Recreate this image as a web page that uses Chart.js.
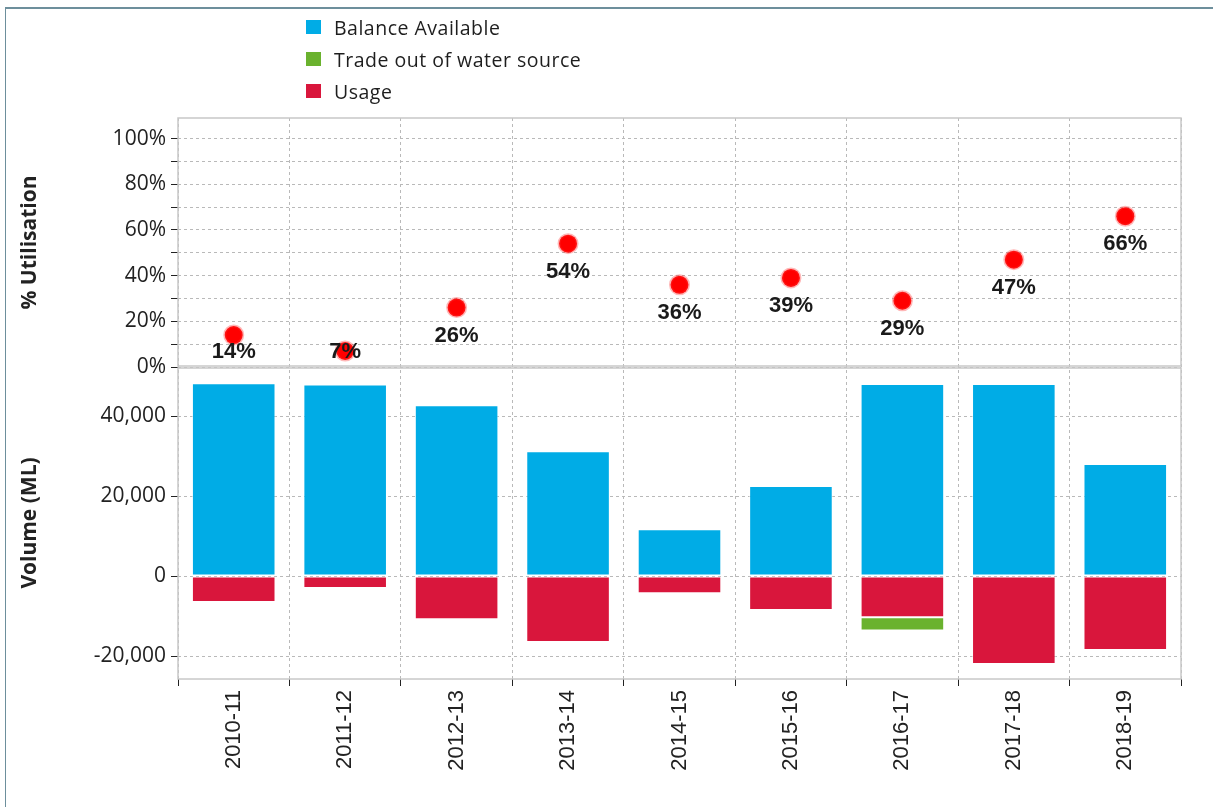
<!DOCTYPE html>
<html>
<head>
<meta charset="utf-8">
<script src="https://cdn.jsdelivr.net/npm/chart.js@4.4.1/dist/chart.umd.min.js"></script>
<style>
  html, body { margin: 0; padding: 0; background: #fff; }
  #wrap { position: relative; width: 1213px; height: 807px; overflow: hidden; }
  #frame { position: absolute; left: 5px; top: 7px; width: 1300px; height: 900px;
           border-left: 1px solid #6d8f9c; border-top: 2px solid #6d8f9c; }
  #legend { position: absolute; left: 306px; top: 11px; font: 19.5px "Open Sans", sans-serif;
            color: #1e1e1e; letter-spacing: 0.5px; }
  .item { height: 32px; display: flex; align-items: center; }
  .sw { width: 15px; height: 14px; margin-right: 13px; }
  canvas { position: absolute; left: 0; top: 0; }
</style>
</head>
<body>
<div id="wrap">
  <div id="frame"></div>
  <canvas id="volumeChart" width="1213" height="807"></canvas>
  <div id="legend"></div>
</div>
<script>
// сезони та значення
const seasons = ["2010-11", "2011-12", "2012-13", "2013-14", "2014-15", "2015-16", "2016-17", "2017-18", "2018-19"];
const balanceAvailable = [48200, 47900, 42700, 31200, 11700, 22500, 48000, 48000, 28000];
const usage = [-6500, -3000, -10800, -16500, -4300, -8500, -10300, -22000, -18500];
const tradeOut = [null, null, null, null, null, null, -3300, null, null];
const utilisation = [14, 7, 26, 54, 36, 39, 29, 47, 66];

// позначки осей
const pctTicks = [0, 10, 20, 30, 40, 50, 60, 70, 80, 90, 100];
const pctLabelled = [0, 20, 40, 60, 80, 100];
const volumeTicks = [-20000, 0, 20000, 40000];

const colors = {
  balance: "#00ace6",
  trade: "#6ab22e",
  usage: "#d9163c"
};

// легенда — в тому ж порядку, що й на оригіналі
const legendItems = [
  ["Balance Available", colors.balance],
  ["Trade out of water source", colors.trade],
  ["Usage", colors.usage]
];
document.getElementById("legend").innerHTML = legendItems
  .map(([name, c]) => `<div class="item"><span class="sw" style="background:${c}"></span>${name}</div>`)
  .join("");

Chart.defaults.font.family = '"Open Sans", sans-serif';
Chart.defaults.color = "#222";

const gridColor = "#b9b9b9";
const tickFont = { family: '"Open Sans", sans-serif', size: 21 };
const titleFont = { family: '"Open Sans", sans-serif', size: 21, weight: "bold" };

// рамки навколо обох панелей
const panelFrame = {
  id: "panelFrame",
  beforeDatasetsDraw(chart) {
    const { ctx, chartArea } = chart;
    const top = chart.scales.yPct;
    const vol = chart.scales.yVol;
    ctx.save();
    ctx.strokeStyle = "#c8c8c8";
    ctx.lineWidth = 1.5;
    ctx.strokeRect(chartArea.left, top.top, chartArea.right - chartArea.left, top.bottom - top.top - 1);
    ctx.strokeRect(chartArea.left, vol.top + 1, chartArea.right - chartArea.left, vol.bottom - vol.top - 1);
    ctx.restore();
  }
};

// підписи відсотків під точками
const pctLabels = {
  id: "pctLabels",
  afterDatasetsDraw(chart) {
    const { ctx } = chart;
    const meta = chart.getDatasetMeta(0);
    const yS = chart.scales.yPct;
    ctx.save();
    ctx.font = 'bold 22px "Liberation Sans", Arial, sans-serif';
    ctx.fillStyle = "#1a1a1a";
    ctx.textAlign = "center";
    ctx.textBaseline = "middle";
    meta.data.forEach((pt, i) => {
      const y = Math.min(pt.y + 28, yS.bottom - 15);
      ctx.fillText(utilisation[i] + "%", pt.x, y);
    });
    ctx.restore();
  }
};

const ctx = document.getElementById("volumeChart").getContext("2d");
new Chart(ctx, {
  type: "bar",
  data: {
    labels: seasons,
    datasets: [
      {
        type: "line",
        label: "% Utilisation",
        data: utilisation,
        yAxisID: "yPct",
        showLine: false,
        pointRadius: 9,
        pointHoverRadius: 9,
        pointBackgroundColor: "#ff0000",
        pointBorderColor: "rgba(255, 50, 50, 0.35)",
        pointBorderWidth: 3
      },
      { label: "Balance Available", data: balanceAvailable, backgroundColor: colors.balance, yAxisID: "yVol", stack: "vol" },
      { label: "Usage", data: usage, backgroundColor: colors.usage, yAxisID: "yVol", stack: "vol" },
      { label: "Trade out of water source", data: tradeOut, backgroundColor: colors.trade, yAxisID: "yVol", stack: "vol" }
    ]
  },
  options: {
    responsive: false,
    animation: false,
    layout: { padding: { left: 13, right: 32, top: 118, bottom: 0 } },
    plugins: { legend: { display: false }, tooltip: { enabled: false } },
    datasets: {
      bar: {
        categoryPercentage: 1,
        barPercentage: 0.75,
        borderColor: "rgba(255, 255, 255, 0.6)",
        borderWidth: 1,
        borderSkipped: false
      }
    },
    scales: {
      x: {
        stacked: true,
        grid: { offset: true, color: gridColor, tickColor: "#222", tickLength: 7 },
        border: { display: false, dash: [3, 3] },
        ticks: {
          minRotation: 90,
          maxRotation: 90,
          padding: 4,
          color: "#222",
          font: { family: '"Liberation Sans", Arial, sans-serif', size: 22 }
        },
        afterFit: s => { s.height = 128; }
      },
      // у стеку осей перша оголошена йде вниз
      yVol: {
        type: "linear",
        position: "left",
        stack: "panels",
        stackWeight: 312,
        stacked: true,
        min: -25750,
        max: 52250,
        ticks: {
          padding: 5,
          autoSkip: false,
          font: tickFont,
          callback: v => v.toLocaleString("en-US")
        },
        afterBuildTicks: s => { s.ticks = volumeTicks.map(v => ({ value: v })); },
        grid: { color: gridColor, tickColor: "#222", tickLength: 7 },
        border: { display: false, dash: [3, 3] },
        title: { display: true, text: "Volume (ML)", font: titleFont, color: "#222" },
        afterFit: s => { s.width = 165; }
      },
      yPct: {
        type: "linear",
        position: "left",
        stack: "panels",
        stackWeight: 249,
        min: 0,
        max: 109,
        ticks: {
          padding: 5,
          autoSkip: false,
          font: tickFont,
          callback: v => (pctLabelled.includes(v) ? v + "%" : "")
        },
        afterBuildTicks: s => { s.ticks = pctTicks.map(v => ({ value: v })); },
        grid: { color: gridColor, tickColor: "#222", tickLength: 7 },
        border: { display: false, dash: [3, 3] },
        title: { display: true, text: "% Utilisation", font: titleFont, color: "#222" },
        afterFit: s => { s.width = 165; }
      }
    }
  },
  plugins: [panelFrame, pctLabels]
});
</script>
</body>
</html>
